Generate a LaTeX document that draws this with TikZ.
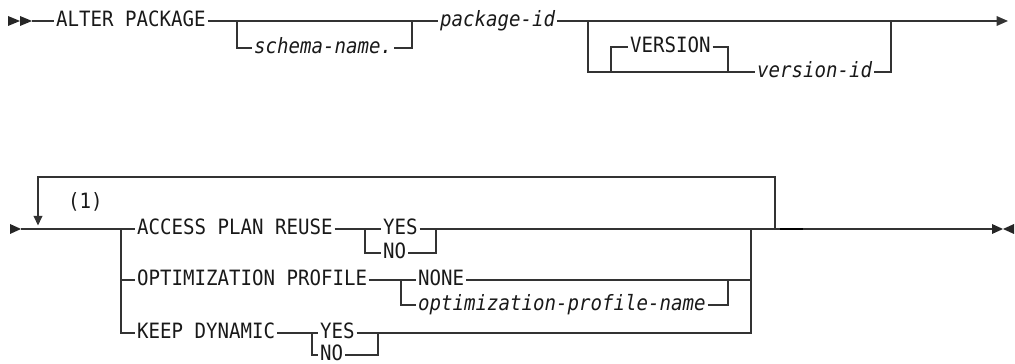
\documentclass[tikz,border=0pt]{standalone}
\usepackage{fontspec}
\setmonofont{DejaVu Sans Mono}[FakeStretch=0.906]
\usetikzlibrary{arrows.meta}

\begin{document}
\begin{tikzpicture}[
        x=0.02cm, y=-0.02cm,
        rail/.style={
            line width=0.8pt,
            draw=black!80
        },
        keyword/.style={
            anchor=west,
            inner xsep=1pt,
            inner ysep=0pt,
            text height=8pt,
            text depth=1.2pt,
            text=black!90,
            font=\fontsize{12}{13}\selectfont\ttfamily
        },
        varname/.style={
            keyword,
            font=\fontsize{12}{13}\selectfont\ttfamily\itshape
        },
        railTip/.style={
            fill=black!85
        }
    ]

        \useasboundingbox (0,0) rectangle (1015,364);

        % first line
        \fill[railTip] (8,16) -- (20,21) -- (8,26) -- cycle;
        \fill[railTip] (20,16) -- (32,21) -- (20,26) -- cycle;
        \coordinate (st1) at (32,21);

        \node[keyword] (alter) at (54,21) {ALTER PACKAGE};
        \node[varname] (schema) at (252,48) {schema-name.};
        \node[varname] (pkg) at (438,21) {package-id};
        \node[keyword] (version) at (628,47) {VERSION};
        \node[varname] (verid) at (755,72) {version-id};

        \coordinate (b1) at (237,21);
        \coordinate (b2) at (412,21);
        \coordinate (b3) at (588,21);
        \coordinate (b4) at (611,72);
        \coordinate (b5) at (728,72);
        \coordinate (b6) at (891,21);
        \coordinate (end1) at (1008,21);

        \draw[rail] (st1) -- (alter.west);
        \draw[rail] (alter.east) -- (pkg.west);
        \draw[rail] (b1) |- (schema.west);
        \draw[rail] (schema.east) -| (b2);
        \draw[rail, -{Triangle[length=6.5pt,width=5.5pt]}] (pkg.east) -- (end1);
        \draw[rail] (b3) |- (verid.west);
        \draw[rail] (verid.east) -| (b6);
        \draw[rail] (b4) |- (version.west);
        \draw[rail] (version.east) -| (b5);

        % second line
        \fill[railTip] (10,224) -- (21,229) -- (10,234) -- cycle;
        \coordinate (st2) at (21,229);

        \node[keyword] (note) at (66,203) {(1)};
        \node[keyword] (acc) at (135,229) {ACCESS PLAN REUSE};
        \node[keyword] (yes1) at (381,229) {YES};
        \node[keyword] (no1) at (381,253) {NO};
        \node[keyword] (opt) at (135,280) {OPTIMIZATION PROFILE};
        \node[keyword] (none) at (416,280) {NONE};
        \node[varname] (optname) at (416,305) {optimization-profile-name};
        \node[keyword] (keep) at (135,333) {KEEP DYNAMIC};
        \node[keyword] (yes3) at (318,333) {YES};
        \node[keyword] (no3) at (318,355) {NO};

        \coordinate (lpL) at (38,229);
        \coordinate (lpT) at (38,177);
        \coordinate (lpR) at (775,229);
        \coordinate (c1) at (121,229);
        \coordinate (c2) at (751,229);
        \coordinate (d1) at (365,229);
        \coordinate (e1) at (436,229);
        \coordinate (d2) at (401,280);
        \coordinate (e2) at (728,280);
        \coordinate (d3) at (312,333);
        \coordinate (e3) at (378,333);
        \coordinate (fin) at (992,229);

        \draw[rail] (st2) -- (acc.west);
        \draw[rail, -{Triangle[length=5.5pt,width=5pt]}, shorten >=2pt] (lpR) |- (lpT) -- (lpL);
        \draw[rail] (c1) |- (opt.west);
        \draw[rail] (c1) |- (keep.west);

        \draw[rail] (acc.east) -- (yes1.west);
        \draw[rail] (d1) |- (no1.west);
        \draw[rail] (no1.east) -| (e1);
        \draw[rail] (yes1.east) -- (c2);

        \draw[rail] (opt.east) -- (none.west);
        \draw[rail] (d2) |- (optname.west);
        \draw[rail] (optname.east) -| (e2);
        \draw[rail] (none.east) -| (c2);

        \draw[rail] (keep.east) -- (yes3.west);
        \draw[rail] (d3) |- (no3.west);
        \draw[rail] (no3.east) -| (e3);
        \draw[rail] (yes3.east) -| (c2);

        \draw[rail] (c2) -- (fin);
        \draw[rail, line width=1.6pt, draw=black] (780,229) -- (803,229);
        \fill[railTip] (992,224) -- (1003,229) -- (992,234) -- cycle;
        \fill[railTip] (1014,224) -- (1003,229) -- (1014,234) -- cycle;

    \end{tikzpicture}
\end{document}
